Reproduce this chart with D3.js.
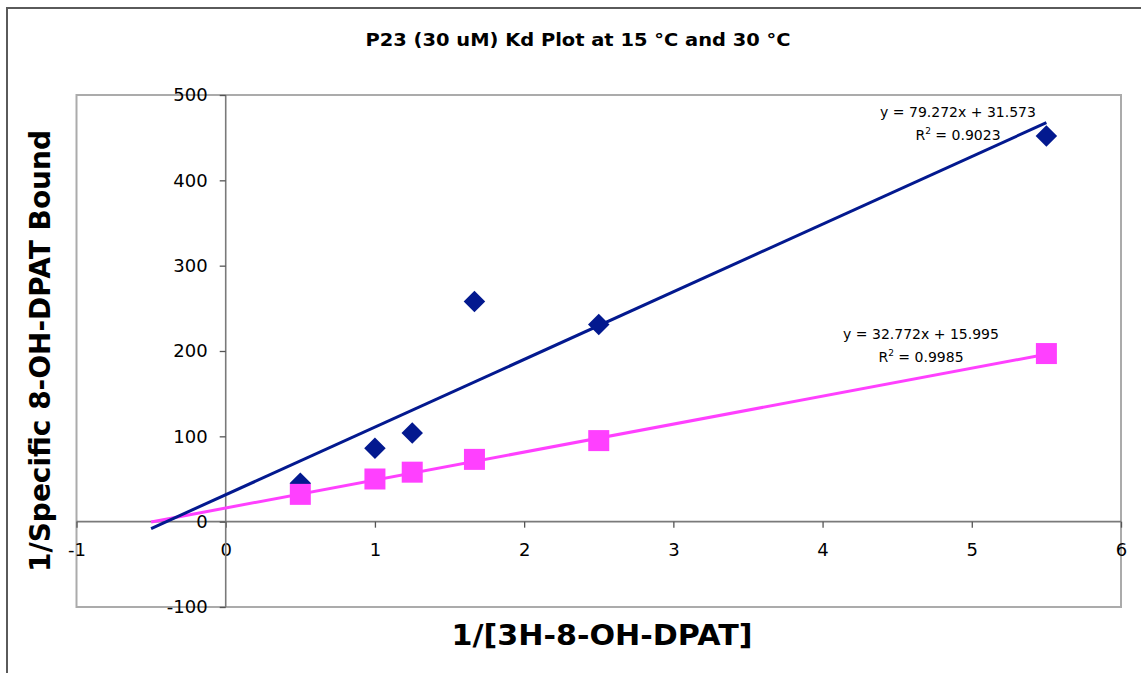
<!DOCTYPE html>
<html><head><meta charset="utf-8">
<script src="https://cdn.jsdelivr.net/npm/d3@7/dist/d3.min.js"></script>
<style>
html,body{margin:0;padding:0;background:#fff;}
svg{display:block;font-family:"DejaVu Sans",Verdana,sans-serif;}
</style></head>
<body>
<script>
const title = "P23 (30 uM) Kd Plot at 15 °C and 30 °C";
const xLabel = "1/[3H-8-OH-DPAT]";
const yLabel = "1/Specific 8-OH-DPAT Bound";
const xValues = [0.5, 1, 1.25, 1.667, 2.5, 5.5];
const series15 = [45, 86, 104, 258, 231, 452];
const series30 = [32, 50, 58, 73, 95, 197];
const fit15 = {slope: 79.272, intercept: 31.573, r2: "0.9023", from: -0.5, to: 5.5};
const fit30 = {slope: 32.772, intercept: 15.995, r2: "0.9985", from: -0.5, to: 5.5};
const xTicks = [-1, 0, 1, 2, 3, 4, 5, 6];
const yTicks = [-100, 0, 100, 200, 300, 400, 500];

const W = 1141, H = 673;
const plot = {left: 76.5, right: 1121, top: 95, bottom: 607};
const svg = d3.select("body").append("svg").attr("width", W).attr("height", H);

// outer border
svg.append("rect").attr("x", 7).attr("y", 8).attr("width", W + 10).attr("height", H + 10)
  .attr("fill", "#fff").attr("stroke", "#5a5a5a").attr("stroke-width", 2);

const x = d3.scaleLinear().domain([-1, 6]).range([plot.left, plot.right]);
const y = d3.scaleLinear().domain([-100, 500]).range([plot.bottom, plot.top]);

// plot area border
svg.append("rect").attr("x", plot.left).attr("y", plot.top)
  .attr("width", plot.right - plot.left).attr("height", plot.bottom - plot.top)
  .attr("fill", "#fff").attr("stroke", "#ababab").attr("stroke-width", 2);

// axes through zero
const fmt = d => String(d);
const xAxis = d3.axisBottom(x).tickValues(xTicks).tickSize(6).tickPadding(18).tickFormat(fmt);
const gx = svg.append("g").attr("transform", `translate(0,${y(0)})`).call(xAxis);
const yAxis = d3.axisLeft(y).tickValues(yTicks).tickSize(6).tickPadding(12).tickFormat(fmt);
const gy = svg.append("g").attr("transform", `translate(${x(0)},0)`).call(yAxis);
[gx, gy].forEach(g => {
  g.select(".domain").attr("stroke", "#7a7a7a").attr("stroke-width", 1.6);
  g.selectAll(".tick line").attr("stroke", "#555").attr("stroke-width", 1.3);
  g.selectAll(".tick text").attr("fill", "#000").style("font-size", "18px")
    .style("font-family", '"DejaVu Sans",Verdana,sans-serif');
});
gx.select(".domain").attr("d", `M${plot.left},0H${plot.right}`);
gy.select(".domain").attr("d", `M0,${plot.top}V${plot.bottom}`);
gx.selectAll(".tick text").attr("dy", "0.55em");

// trend lines
const line = d3.line().x(d => x(d[0])).y(d => y(d[1]));
function fitPts(f) { return [[f.from, f.slope * f.from + f.intercept], [f.to, f.slope * f.to + f.intercept]]; }
const blue = "#03198f", pink = "#ff40ff";
svg.append("path").attr("d", line(fitPts(fit30))).attr("stroke", pink).attr("stroke-width", 3).attr("fill", "none");
svg.append("path").attr("d", line(fitPts(fit15))).attr("stroke", blue).attr("stroke-width", 3).attr("fill", "none");

// markers
svg.append("g").selectAll("path").data(xValues.map((v, i) => [v, series15[i]])).join("path")
  .attr("transform", d => `translate(${x(d[0])},${y(d[1])}) rotate(45)`)
  .attr("d", "M-7.6,-7.6H7.6V7.6H-7.6Z").attr("fill", blue);
svg.append("g").selectAll("rect").data(xValues.map((v, i) => [v, series30[i]])).join("rect")
  .attr("x", d => x(d[0]) - 10.5).attr("y", d => y(d[1]) - 10.5)
  .attr("width", 21).attr("height", 21).attr("fill", pink);

// equations
function eq(cx, by, f) {
  svg.append("text").attr("x", cx).attr("y", by).attr("text-anchor", "middle")
    .style("font-size", "14px").text(`y = ${f.slope.toFixed(3)}x + ${f.intercept.toFixed(3)}`);
  const t = svg.append("text").attr("x", cx).attr("y", by + 23).attr("text-anchor", "middle").style("font-size", "14px");
  t.append("tspan").text("R");
  t.append("tspan").attr("dy", -6).style("font-size", "9px").text("2");
  t.append("tspan").attr("dy", 6).text(` = ${f.r2}`);
}
eq(958, 117, fit15);
eq(921, 339, fit30);

// title and axis labels
svg.append("text").attr("x", 578).attr("y", 46).attr("text-anchor", "middle")
  .attr("textLength", 425).attr("lengthAdjust", "spacingAndGlyphs")
  .style("font-size", "17px").style("font-weight", "bold").text(title);
svg.append("text").attr("x", 602).attr("y", 645).attr("text-anchor", "middle")
  .attr("textLength", 301).attr("lengthAdjust", "spacingAndGlyphs")
  .style("font-size", "28px").style("font-weight", "bold").text(xLabel);
svg.append("text").attr("transform", "translate(50,351) rotate(-90)").attr("text-anchor", "middle")
  .attr("textLength", 442).attr("lengthAdjust", "spacingAndGlyphs")
  .style("font-size", "28px").style("font-weight", "bold").text(yLabel);
</script>
</body></html>
